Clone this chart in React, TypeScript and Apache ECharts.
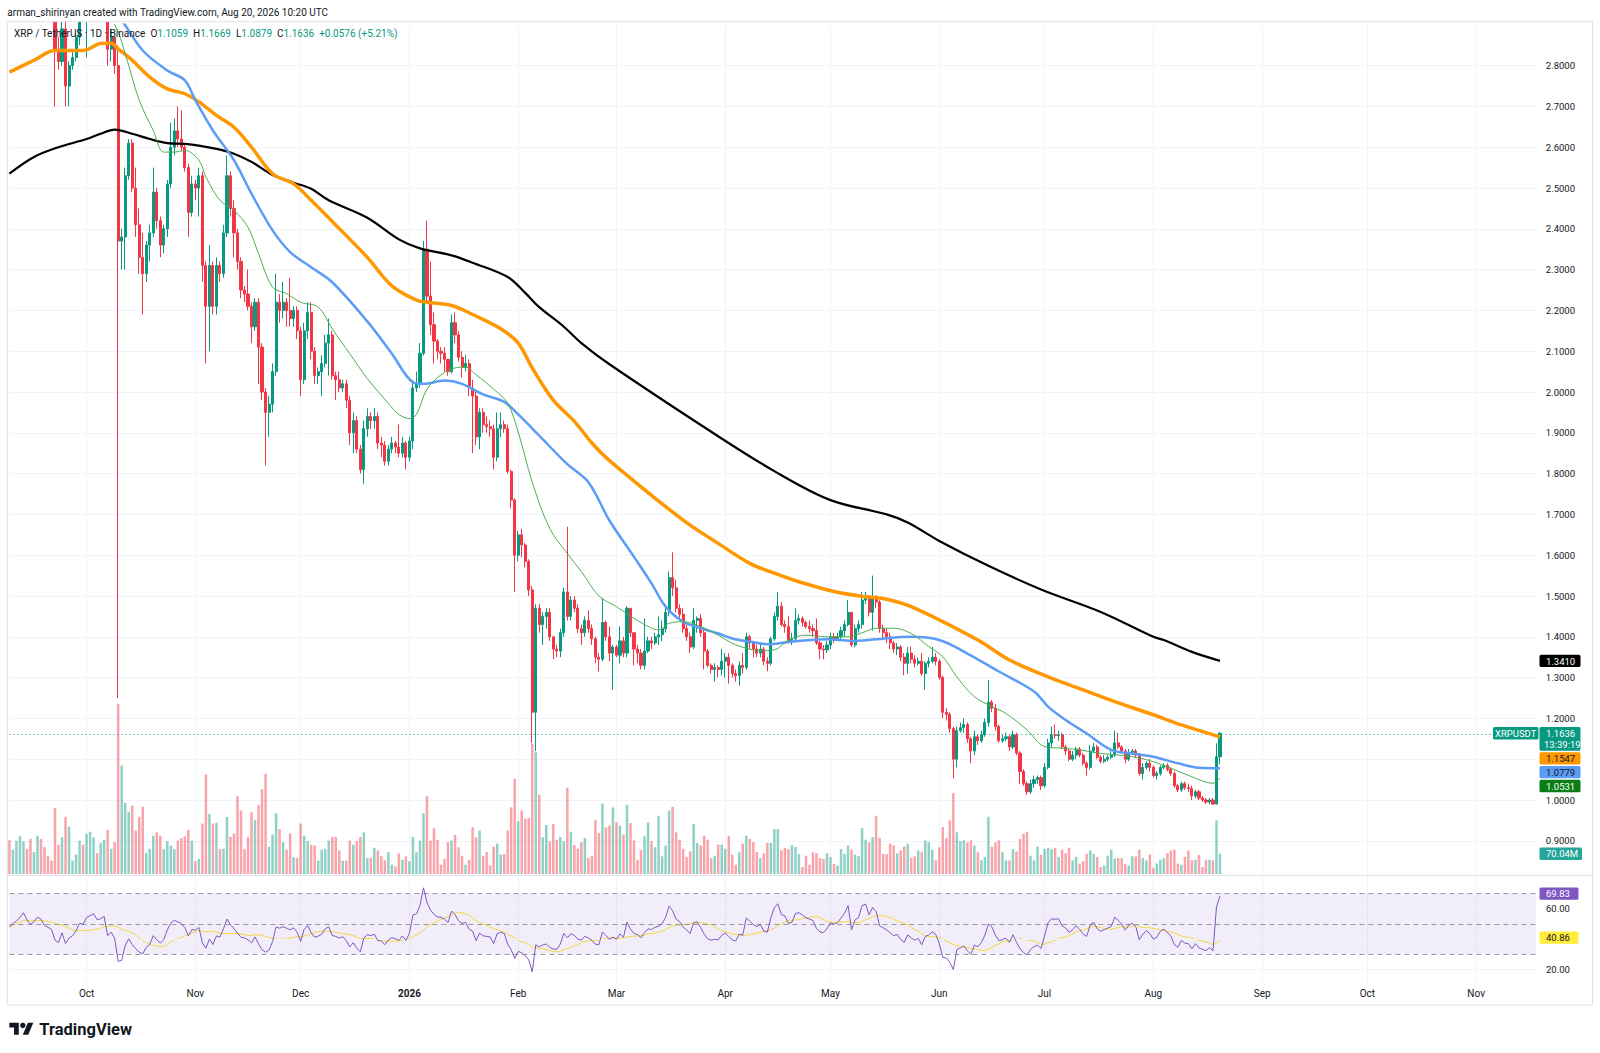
import React, { useEffect, useRef } from "react";
import * as echarts from "echarts";

// ---------- data ----------
const START_UTC = Date.UTC(2025, 8, 9); // first category: 2025-09-09
const DAY_MS = 86400000;
const CATEGORY_COUNT = 436; // axis runs to 2026-11-18
const FIRST_OPEN = 2.99;
const RSI_SEED_MOVE = 0.035; // neutral average move used to start the RSI smoothing

const CLOSE = [
  2.95, 2.99, 3.02, 3.06, 3.12, 3.05, 3.00, 3.03, 3.08, 3.06,
  3.00, 2.98, 2.96, 2.84, 2.81, 2.89, 2.75, 2.80, 2.82, 2.87,
  2.94, 2.93, 3.00, 3.02, 3.04, 2.99, 3.00, 3.02, 2.84, 2.87,
  2.80, 2.37, 2.38, 2.53, 2.61, 2.50, 2.41, 2.33, 2.29, 2.36,
  2.39, 2.49, 2.42, 2.36, 2.40, 2.51, 2.60, 2.64, 2.62, 2.60,
  2.55, 2.44, 2.51, 2.50, 2.53, 2.31, 2.21, 2.31, 2.21, 2.31,
  2.29, 2.39, 2.53, 2.45, 2.39, 2.32, 2.25, 2.24, 2.21, 2.16,
  2.22, 2.11, 2.00, 1.95, 1.97, 2.05, 2.22, 2.20, 2.22, 2.20,
  2.18, 2.20, 2.15, 2.03, 2.15, 2.195, 2.10, 2.04, 2.05, 2.07,
  2.12, 2.14, 2.04, 2.03, 2.01, 2.02, 1.98, 1.90, 1.93, 1.86,
  1.81, 1.91, 1.94, 1.93, 1.94, 1.875, 1.87, 1.83, 1.86, 1.875,
  1.865, 1.85, 1.875, 1.84, 1.88, 2.01, 2.02, 2.095, 2.35, 2.235,
  2.165, 2.125, 2.10, 2.095, 2.08, 2.05, 2.17, 2.14, 2.085, 2.06,
  2.07, 2.01, 1.99, 1.89, 1.95, 1.92, 1.915, 1.91, 1.84, 1.91,
  1.92, 1.91, 1.805, 1.735, 1.60, 1.65, 1.625, 1.585, 1.515, 1.215,
  1.47, 1.43, 1.45, 1.46, 1.40, 1.37, 1.365, 1.41, 1.51, 1.45,
  1.49, 1.47, 1.42, 1.41, 1.44, 1.42, 1.395, 1.35, 1.345, 1.435,
  1.40, 1.36, 1.375, 1.355, 1.39, 1.36, 1.47, 1.41, 1.37, 1.36,
  1.33, 1.365, 1.39, 1.385, 1.40, 1.405, 1.42, 1.46, 1.545, 1.52,
  1.47, 1.455, 1.42, 1.40, 1.375, 1.44, 1.445, 1.41, 1.365, 1.33,
  1.32, 1.325, 1.32, 1.34, 1.35, 1.33, 1.31, 1.305, 1.33, 1.325,
  1.40, 1.385, 1.37, 1.36, 1.37, 1.34, 1.335, 1.395, 1.45, 1.475,
  1.43, 1.425, 1.39, 1.395, 1.44, 1.445, 1.435, 1.425, 1.42, 1.415,
  1.385, 1.37, 1.368, 1.38, 1.40, 1.395, 1.40, 1.415, 1.43, 1.46,
  1.38, 1.42, 1.43, 1.49, 1.50, 1.46, 1.50, 1.485, 1.42, 1.41,
  1.40, 1.385, 1.37, 1.375, 1.35, 1.335, 1.36, 1.345, 1.335, 1.34,
  1.31, 1.335, 1.34, 1.35, 1.34, 1.30, 1.215, 1.21, 1.175, 1.10,
  1.17, 1.178, 1.185, 1.15, 1.12, 1.155, 1.145, 1.16, 1.19, 1.24,
  1.225, 1.18, 1.145, 1.15, 1.155, 1.13, 1.16, 1.115, 1.07, 1.04,
  1.02, 1.04, 1.05, 1.055, 1.035, 1.08, 1.14, 1.16, 1.158, 1.16,
  1.13, 1.12, 1.10, 1.11, 1.125, 1.11, 1.09, 1.08, 1.12, 1.13,
  1.105, 1.095, 1.10, 1.105, 1.11, 1.14, 1.13, 1.12, 1.10, 1.115,
  1.12, 1.11, 1.065, 1.08, 1.09, 1.08, 1.06, 1.065, 1.08, 1.085,
  1.075, 1.065, 1.035, 1.025, 1.04, 1.03, 1.028, 1.01, 1.02, 1.005,
  1.00, 0.995, 1.00, 0.99, 1.1059, 1.1636,
];

const HIGH = [
  3.00, 3.01, 3.05, 3.09, 3.17, 3.14, 3.07, 3.05, 3.12, 3.11,
  3.07, 3.02, 3.00, 2.98, 2.87, 2.94, 2.92, 2.81, 2.84, 2.88,
  2.98, 2.99, 3.03, 3.05, 3.07, 3.05, 3.03, 3.06, 3.02, 2.89,
  2.87, 2.85, 2.40, 2.55, 2.62, 2.62, 2.55, 2.45, 2.39, 2.37,
  2.41, 2.55, 2.50, 2.43, 2.41, 2.52, 2.66, 2.67, 2.70, 2.69,
  2.61, 2.56, 2.53, 2.52, 2.55, 2.54, 2.32, 2.36, 2.32, 2.33,
  2.32, 2.41, 2.58, 2.54, 2.47, 2.40, 2.33, 2.26, 2.30, 2.22,
  2.23, 2.23, 2.12, 2.01, 1.99, 2.07, 2.29, 2.24, 2.27, 2.23,
  2.28, 2.21, 2.21, 2.16, 2.17, 2.22, 2.22, 2.11, 2.06, 2.09,
  2.14, 2.18, 2.15, 2.05, 2.05, 2.03, 2.03, 1.99, 1.95, 1.94,
  1.87, 1.93, 1.96, 1.95, 1.96, 1.95, 1.89, 1.88, 1.87, 1.89,
  1.88, 1.92, 1.89, 1.88, 1.89, 2.03, 2.05, 2.12, 2.37, 2.42,
  2.32, 2.195, 2.13, 2.11, 2.11, 2.08, 2.19, 2.195, 2.15, 2.10,
  2.09, 2.08, 2.03, 2.00, 1.96, 1.96, 1.94, 1.93, 1.92, 1.95,
  1.95, 1.93, 1.92, 1.81, 1.74, 1.66, 1.665, 1.63, 1.59, 1.525,
  1.48, 1.48, 1.46, 1.47, 1.47, 1.40, 1.38, 1.42, 1.52, 1.67,
  1.50, 1.50, 1.48, 1.43, 1.45, 1.465, 1.43, 1.40, 1.36, 1.495,
  1.44, 1.425, 1.38, 1.38, 1.425, 1.40, 1.475, 1.44, 1.41, 1.38,
  1.37, 1.445, 1.40, 1.40, 1.41, 1.45, 1.44, 1.48, 1.56, 1.607,
  1.54, 1.48, 1.47, 1.43, 1.41, 1.47, 1.45, 1.455, 1.42, 1.37,
  1.335, 1.335, 1.33, 1.37, 1.36, 1.36, 1.335, 1.32, 1.34, 1.36,
  1.41, 1.405, 1.39, 1.38, 1.385, 1.375, 1.35, 1.40, 1.46, 1.51,
  1.485, 1.44, 1.45, 1.41, 1.47, 1.455, 1.45, 1.44, 1.44, 1.43,
  1.445, 1.39, 1.38, 1.39, 1.41, 1.41, 1.41, 1.425, 1.44, 1.49,
  1.46, 1.43, 1.44, 1.51, 1.51, 1.50, 1.55, 1.50, 1.49, 1.43,
  1.42, 1.41, 1.39, 1.385, 1.38, 1.36, 1.375, 1.376, 1.355, 1.35,
  1.36, 1.34, 1.35, 1.375, 1.36, 1.345, 1.305, 1.225, 1.215, 1.18,
  1.18, 1.19, 1.20, 1.19, 1.155, 1.17, 1.16, 1.17, 1.20, 1.294,
  1.245, 1.235, 1.185, 1.16, 1.165, 1.16, 1.17, 1.165, 1.12, 1.075,
  1.045, 1.05, 1.06, 1.06, 1.06, 1.09, 1.15, 1.18, 1.185, 1.17,
  1.165, 1.135, 1.125, 1.12, 1.13, 1.13, 1.115, 1.095, 1.135, 1.14,
  1.135, 1.11, 1.11, 1.11, 1.12, 1.17, 1.165, 1.135, 1.125, 1.125,
  1.125, 1.125, 1.115, 1.09, 1.095, 1.10, 1.085, 1.07, 1.085, 1.09,
  1.09, 1.08, 1.07, 1.04, 1.045, 1.045, 1.04, 1.035, 1.025, 1.025,
  1.01, 1.005, 1.005, 1.005, 1.139, 1.1669,
];

const LOW = [
  2.93, 2.94, 2.97, 3.00, 3.05, 3.01, 2.96, 2.97, 3.01, 3.03,
  2.97, 2.95, 2.93, 2.70, 2.79, 2.80, 2.70, 2.70, 2.79, 2.81,
  2.85, 2.92, 2.82, 2.97, 2.99, 2.96, 2.95, 2.96, 2.80, 2.81,
  2.78, 1.25, 2.30, 2.30, 2.52, 2.49, 2.38, 2.29, 2.19, 2.27,
  2.32, 2.38, 2.40, 2.33, 2.34, 2.38, 2.50, 2.58, 2.60, 2.59,
  2.54, 2.38, 2.43, 2.47, 2.43, 2.27, 2.07, 2.10, 2.19, 2.19,
  2.27, 2.28, 2.38, 2.43, 2.33, 2.30, 2.23, 2.22, 2.20, 2.12,
  2.15, 2.02, 1.98, 1.82, 1.89, 1.95, 2.04, 2.17, 2.18, 2.16,
  2.16, 2.16, 2.13, 1.99, 2.02, 2.13, 2.08, 2.02, 2.02, 1.99,
  2.06, 2.04, 2.03, 1.98, 2.00, 2.00, 1.96, 1.87, 1.85, 1.85,
  1.80, 1.775, 1.89, 1.91, 1.91, 1.86, 1.84, 1.82, 1.82, 1.85,
  1.85, 1.84, 1.84, 1.81, 1.83, 1.86, 2.00, 2.01, 2.09, 2.22,
  2.14, 2.07, 2.08, 2.07, 2.05, 2.04, 2.045, 2.12, 2.075, 2.035,
  2.05, 1.99, 1.85, 1.87, 1.86, 1.90, 1.90, 1.89, 1.81, 1.83,
  1.89, 1.90, 1.80, 1.715, 1.51, 1.585, 1.595, 1.57, 1.50, 1.14,
  1.12, 1.41, 1.38, 1.42, 1.39, 1.345, 1.35, 1.35, 1.40, 1.44,
  1.44, 1.46, 1.41, 1.38, 1.40, 1.41, 1.38, 1.335, 1.315, 1.34,
  1.39, 1.34, 1.27, 1.35, 1.335, 1.35, 1.35, 1.40, 1.33, 1.335,
  1.32, 1.32, 1.36, 1.37, 1.38, 1.38, 1.39, 1.41, 1.45, 1.50,
  1.46, 1.44, 1.41, 1.39, 1.36, 1.37, 1.41, 1.40, 1.32, 1.325,
  1.31, 1.29, 1.30, 1.305, 1.30, 1.285, 1.30, 1.29, 1.28, 1.31,
  1.32, 1.37, 1.35, 1.35, 1.35, 1.33, 1.315, 1.33, 1.39, 1.44,
  1.425, 1.41, 1.385, 1.38, 1.39, 1.43, 1.425, 1.42, 1.41, 1.40,
  1.38, 1.345, 1.345, 1.36, 1.37, 1.385, 1.39, 1.395, 1.40, 1.425,
  1.375, 1.375, 1.41, 1.42, 1.48, 1.45, 1.415, 1.47, 1.41, 1.395,
  1.385, 1.37, 1.36, 1.355, 1.34, 1.306, 1.31, 1.335, 1.325, 1.33,
  1.305, 1.27, 1.325, 1.335, 1.33, 1.295, 1.20, 1.195, 1.165, 1.053,
  1.08, 1.165, 1.165, 1.14, 1.09, 1.11, 1.135, 1.14, 1.155, 1.18,
  1.215, 1.17, 1.14, 1.14, 1.145, 1.12, 1.125, 1.11, 1.04, 1.035,
  1.012, 1.015, 1.03, 1.04, 1.025, 1.03, 1.075, 1.13, 1.15, 1.145,
  1.125, 1.11, 1.095, 1.095, 1.10, 1.105, 1.085, 1.06, 1.075, 1.115,
  1.10, 1.09, 1.09, 1.095, 1.10, 1.105, 1.125, 1.115, 1.09, 1.095,
  1.11, 1.105, 1.06, 1.05, 1.075, 1.07, 1.055, 1.05, 1.06, 1.075,
  1.07, 1.06, 1.03, 1.02, 1.02, 1.025, 1.02, 1.00, 1.005, 1.00,
  0.995, 0.99, 0.99, 0.988, 0.99, 1.0879,
];

// volume in millions
const VOLUME = [
  118, 84, 115, 130, 113, 87, 121, 76, 132, 121,
  93, 63, 46, 228, 101, 127, 197, 163, 46, 67,
  115, 101, 138, 146, 127, 72, 107, 118, 152, 87,
  110, 587, 374, 245, 215, 236, 150, 197, 232, 72,
  87, 132, 144, 132, 86, 113, 98, 86, 115, 124,
  130, 152, 115, 44, 52, 174, 343, 207, 174, 177,
  86, 87, 197, 128, 140, 268, 219, 86, 128, 213,
  187, 238, 293, 346, 94, 136, 210, 155, 110, 84,
  140, 58, 55, 174, 132, 113, 101, 98, 46, 84,
  87, 115, 128, 128, 81, 46, 46, 115, 101, 113,
  128, 144, 55, 55, 90, 81, 61, 47, 76, 32,
  26, 71, 49, 61, 44, 128, 75, 115, 210, 268,
  115, 158, 118, 32, 52, 110, 115, 135, 92, 63,
  32, 49, 161, 127, 150, 63, 76, 30, 95, 105,
  67, 69, 150, 230, 328, 182, 219, 191, 193, 450,
  420, 273, 127, 169, 113, 173, 118, 128, 113, 298,
  146, 100, 87, 110, 124, 55, 63, 187, 141, 243,
  161, 167, 230, 178, 167, 136, 239, 176, 116, 49,
  82, 130, 178, 113, 92, 201, 61, 98, 219, 232,
  144, 118, 87, 59, 78, 173, 107, 99, 132, 118,
  55, 63, 101, 101, 87, 132, 67, 32, 75, 105,
  132, 121, 110, 76, 55, 72, 107, 107, 155, 155,
  82, 90, 86, 99, 93, 69, 24, 63, 32, 75,
  72, 55, 52, 72, 59, 35, 29, 86, 69, 98,
  84, 67, 61, 159, 118, 109, 127, 201, 124, 70,
  69, 105, 98, 72, 81, 95, 104, 56, 61, 81,
  75, 116, 110, 84, 47, 92, 162, 124, 185, 279,
  144, 113, 116, 109, 116, 98, 75, 47, 59, 197,
  95, 109, 116, 75, 47, 47, 86, 78, 121, 139,
  146, 63, 47, 95, 67, 86, 90, 86, 90, 59,
  84, 72, 90, 47, 59, 36, 44, 70, 81, 69,
  59, 24, 29, 63, 84, 53, 55, 55, 35, 29,
  61, 61, 84, 55, 47, 67, 21, 36, 49, 55,
  72, 81, 84, 36, 32, 59, 81, 47, 49, 66,
  24, 49, 49, 47, 185, 70.04,
];

// moving averages: [day index, value]
const MA_FAST: [number, number][] = [
  [0, 2.98], [10, 3.0], [20, 2.95], [26, 2.93], [30, 2.9], [33, 2.829], [37, 2.715], [41, 2.641],
  [44, 2.588], [47, 2.588], [50, 2.592], [54, 2.568], [56, 2.527], [60, 2.47], [64, 2.445],
  [68, 2.404], [71, 2.339], [75, 2.257], [79, 2.241], [83, 2.22], [88, 2.208], [92, 2.155],
  [97, 2.094], [102, 2.033], [108, 1.972], [111, 1.945], [114, 1.935], [116, 1.945], [119, 2.007],
  [123, 2.042], [127, 2.059], [130, 2.061], [133, 2.042], [138, 2.007], [142, 1.972], [145, 1.902],
  [149, 1.779], [154, 1.665], [159, 1.604], [163, 1.56], [168, 1.5], [173, 1.474], [178, 1.445],
  [183, 1.421], [185, 1.417], [188, 1.433], [192, 1.437], [197, 1.425], [202, 1.404], [206, 1.384],
  [210, 1.372], [214, 1.366], [218, 1.368], [222, 1.392], [227, 1.404], [233, 1.4], [239, 1.4],
  [244, 1.413], [247, 1.421], [252, 1.421], [257, 1.408], [262, 1.376], [266, 1.351], [270, 1.302],
  [275, 1.253], [280, 1.229], [284, 1.212], [290, 1.172], [295, 1.131], [300, 1.127], [305, 1.123],
  [311, 1.114], [314, 1.112], [320, 1.106], [326, 1.094], [331, 1.078], [337, 1.057], [343, 1.041],
  [345, 1.0531],
];

const MA_50: [number, number][] = [
  [0, 3.02], [10, 3.0], [20, 2.98], [28, 2.95], [32, 2.911], [38, 2.837], [45, 2.788], [50, 2.764],
  [53, 2.715], [58, 2.641], [64, 2.568], [69, 2.486], [75, 2.396], [80, 2.343], [86, 2.306],
  [92, 2.269], [102, 2.173], [109, 2.094], [115, 2.024], [118, 2.02], [124, 2.028], [129, 2.02],
  [135, 1.994], [141, 1.976], [145, 1.945], [151, 1.893], [159, 1.823], [165, 1.779], [171, 1.685],
  [178, 1.596], [183, 1.531], [187, 1.474], [192, 1.437], [197, 1.421], [202, 1.408], [206, 1.396],
  [211, 1.388], [216, 1.382], [221, 1.386], [225, 1.39], [233, 1.394], [240, 1.39], [247, 1.394],
  [257, 1.4], [265, 1.392], [273, 1.359], [282, 1.315], [292, 1.266], [296, 1.229], [301, 1.196],
  [307, 1.163], [314, 1.123], [320, 1.114], [326, 1.106], [333, 1.09], [339, 1.079], [345, 1.0779],
];

const MA_100: [number, number][] = [
  [0, 2.784], [7, 2.813], [13, 2.837], [21, 2.837], [26, 2.854], [29, 2.855], [31, 2.841],
  [35, 2.813], [40, 2.772], [45, 2.743], [50, 2.731], [54, 2.711], [59, 2.678], [64, 2.649],
  [69, 2.6], [75, 2.535], [81, 2.51], [86, 2.47], [92, 2.418], [102, 2.33], [109, 2.26],
  [116, 2.225], [119, 2.22], [126, 2.212], [132, 2.19], [140, 2.155], [145, 2.12], [149, 2.059],
  [155, 1.98], [161, 1.928], [166, 1.875], [171, 1.832], [192, 1.686], [202, 1.629], [211, 1.58],
  [218, 1.556], [225, 1.535], [235, 1.511], [244, 1.498], [249, 1.494], [257, 1.474], [276, 1.392],
  [285, 1.343], [296, 1.302], [306, 1.27], [315, 1.241], [325, 1.212], [334, 1.184], [345, 1.1547],
];

const MA_200: [number, number][] = [
  [0, 2.535], [7, 2.576], [14, 2.6], [22, 2.62], [26, 2.633], [30, 2.643], [35, 2.633], [40, 2.62],
  [45, 2.61], [50, 2.608], [54, 2.604], [59, 2.596], [64, 2.584], [69, 2.564], [75, 2.532],
  [81, 2.513], [86, 2.498], [91, 2.47], [102, 2.427], [111, 2.374], [117, 2.352], [126, 2.335],
  [132, 2.317], [142, 2.282], [147, 2.243], [151, 2.208], [158, 2.16], [163, 2.12], [171, 2.068],
  [201, 1.897], [218, 1.806], [234, 1.735], [250, 1.7], [256, 1.68], [265, 1.635], [279, 1.574],
  [294, 1.516], [311, 1.461], [326, 1.4], [329, 1.392], [337, 1.363], [345, 1.341],
];

const MONTH_NAMES = ["Jan", "Feb", "Mar", "Apr", "May", "Jun", "Jul", "Aug", "Sep", "Oct", "Nov", "Dec"];

const LAST_PRICE = 1.1636;
const LAST_VOLUME = 70.04;
const RSI_LAST_LABEL = 69.83;
const RSI_MA_LAST_LABEL = 40.86;
const MA_TAGS = [
  { value: 1.1547, text: "1.1547", bg: "#FF9800", fg: "#131722" },
  { value: 1.0779, text: "1.0779", bg: "#5B9CF6", fg: "#131722" },
  { value: 1.0531, text: "1.0531", bg: "#0B7D15", fg: "#FFFFFF" },
];
const MA200_TAG = { value: 1.341, text: "1.3410" };
const RSI_AXIS_LABELS = [60, 20];

// ---------- style ----------
const FONT = 'Roboto, "Noto Sans", sans-serif';
const UP = "#089981";
const DOWN = "#F23645";
const VOL_UP = "rgba(8,153,129,0.45)";
const VOL_DOWN = "rgba(242,54,69,0.45)";
const GRID_LINE = "#F0F3FA";
const TEXT = "#131722";

const GRID_LEFT = 9.4;
const CAT_W = 3.509;
const GRID_RIGHT_X = GRID_LEFT + (CATEGORY_COUNT - 1) * CAT_W;
const W = 1600;
const H = 1053;

const TV_LOGO_PATH = "M14 22H7V11H0V4h14v18zM28 22h-8l7.5-18h8L28 22z";
echarts.graphic.registerShape("tvlogo", echarts.graphic.extendPath(TV_LOGO_PATH, {}) as any);

function buildDates(): string[] {
  const out: string[] = [];
  for (let i = 0; i < CATEGORY_COUNT; i++) {
    const d = new Date(START_UTC + i * DAY_MS);
    const m = String(d.getUTCMonth() + 1).padStart(2, "0");
    const dd = String(d.getUTCDate()).padStart(2, "0");
    out.push(`${d.getUTCFullYear()}-${m}-${dd}`);
  }
  return out;
}

// Wilder RSI of the closes
function rsiOf(closes: number[], period: number): (number | null)[] {
  const out: (number | null)[] = [];
  let ag = RSI_SEED_MOVE;
  let al = RSI_SEED_MOVE;
  for (let i = 0; i < closes.length; i++) {
    const prev = i === 0 ? FIRST_OPEN : closes[i - 1];
    const ch = closes[i] - prev;
    const g = ch > 0 ? ch : 0;
    const l = ch < 0 ? -ch : 0;
    ag = (ag * (period - 1) + g) / period;
    al = (al * (period - 1) + l) / period;
    out.push(al === 0 ? 100 : 100 - 100 / (1 + ag / al));
  }
  return out;
}

function smaOf(vals: (number | null)[], period: number): (number | null)[] {
  const out: (number | null)[] = [];
  for (let i = 0; i < vals.length; i++) {
    const win: number[] = [];
    for (let j = Math.max(0, i - period + 1); j <= i; j++) {
      const v = vals[j];
      if (v != null) win.push(v);
    }
    out.push(win.length ? win.reduce((a, b) => a + b, 0) / win.length : null);
  }
  return out;
}

export default function App() {
  const ref = useRef<HTMLDivElement>(null);

  useEffect(() => {
    if (!ref.current) return;
    const chart = echarts.init(ref.current, null, { renderer: "svg", width: W, height: H });
    const dates = buildDates();
    const n = Math.min(CLOSE.length, HIGH.length, LOW.length, VOLUME.length);

    const candles: number[][] = [];
    const vols: any[] = [];
    for (let i = 0; i < n; i++) {
      const o = i === 0 ? FIRST_OPEN : CLOSE[i - 1];
      const c = CLOSE[i];
      const lo = Math.min(LOW[i], o, c);
      const hi = Math.max(HIGH[i], o, c);
      candles.push([o, c, lo, hi]);
      vols.push({ value: VOLUME[i], itemStyle: { color: c >= o ? VOL_UP : VOL_DOWN } });
    }
    const rsi = rsiOf(CLOSE.slice(0, n), 14);
    const rsiMa = smaOf(rsi, 14);

    const isMonthStart = (_i: number, v: string) => typeof v === "string" && v.slice(8, 10) === "01";
    const monthLabel = (v: string) => {
      const m = Number(v.slice(5, 7));
      return m === 1 ? `{y|${v.slice(0, 4)}}` : MONTH_NAMES[m - 1];
    };

    const baseX = (gridIndex: number, showLabels: boolean) => ({
      type: "category",
      gridIndex,
      data: dates,
      boundaryGap: false,
      axisLine: { show: false },
      axisTick: { show: false },
      axisLabel: showLabels
        ? {
            show: true,
            interval: isMonthStart,
            formatter: monthLabel,
            color: TEXT,
            fontSize: 10,
            fontFamily: FONT,
            margin: 5,
            rich: { y: { fontWeight: "bold", fontSize: 10, fontFamily: FONT, color: TEXT } },
          }
        : { show: false },
      splitLine: {
        show: gridIndex !== 1,
        interval: isMonthStart,
        lineStyle: { color: GRID_LINE, width: 1 },
      },
    });

    const maLine = (name: string, data: [number, number][], color: string, width: number, z: number) => ({
      name,
      type: "line",
      xAxisIndex: 0,
      yAxisIndex: 0,
      data,
      smooth: 0.35,
      showSymbol: false,
      symbol: "none",
      clip: true,
      z,
      lineStyle: { color, width },
      silent: true,
    });

    const option: any = {
      animation: false,
      backgroundColor: "#FFFFFF",
      grid: [
        { left: GRID_LEFT, right: W - GRID_RIGHT_X, top: 24.8, bottom: H - 881.6 },
        { left: GRID_LEFT, right: W - GRID_RIGHT_X, top: 574, bottom: H - 874 },
        { left: GRID_LEFT, right: W - GRID_RIGHT_X, top: 876.7, bottom: H - 983 },
      ],
      xAxis: [baseX(0, false), { ...baseX(1, false), show: false }, baseX(2, true)],
      yAxis: [
        {
          type: "value",
          gridIndex: 0,
          position: "right",
          min: 0.8,
          max: 2.9,
          interval: 0.1,
          axisLine: { show: false },
          axisTick: { show: false },
          axisLabel: {
            color: TEXT,
            fontSize: 9.5,
            fontFamily: FONT,
            margin: 10,
            formatter: (v: number) => (v < 0.85 || v > 2.85 ? "" : v.toFixed(4)),
          },
          splitLine: { show: true, showMinLine: false, showMaxLine: false, lineStyle: { color: GRID_LINE } },
        },
        { type: "value", gridIndex: 1, min: 0, max: 1035, show: false },
        { type: "value", gridIndex: 2, min: 11, max: 81, show: false },
      ],
      series: [
        {
          name: "Volume",
          type: "bar",
          xAxisIndex: 1,
          yAxisIndex: 1,
          data: vols,
          barWidth: 2.5,
          z: 1,
          silent: true,
        },
        {
          name: "XRPUSDT",
          type: "candlestick",
          xAxisIndex: 0,
          yAxisIndex: 0,
          data: candles,
          barWidth: 2.6,
          clip: true,
          z: 3,
          itemStyle: { color: UP, color0: DOWN, borderColor: UP, borderColor0: DOWN, borderWidth: 1 },
          markLine: {
            silent: true,
            symbol: ["none", "none"],
            label: { show: false },
            lineStyle: { color: UP, type: [1, 3], width: 1 },
            data: [{ yAxis: LAST_PRICE }],
          },
        },
        maLine("MA200", MA_200, "#000000", 2.2, 4),
        maLine("MA100", MA_100, "#FF9800", 3.5, 5),
        maLine("MA50", MA_50, "#5B9CF6", 2.5, 6),
        maLine("MA20", MA_FAST, "#4CAF50", 1, 7),
        {
          name: "RSI",
          type: "line",
          xAxisIndex: 2,
          yAxisIndex: 2,
          data: rsi,
          showSymbol: false,
          symbol: "none",
          z: 5,
          lineStyle: { color: "#7E57C2", width: 1 },
          silent: true,
          markArea: {
            silent: true,
            itemStyle: { color: "rgba(126,87,194,0.1)" },
            data: [[{ yAxis: 30 }, { yAxis: 70 }]],
          },
          markLine: {
            silent: true,
            symbol: ["none", "none"],
            label: { show: false },
            lineStyle: { color: "#9598A1", type: [5, 4], width: 1 },
            data: [
              { yAxis: 70 },
              { yAxis: 50 },
              { yAxis: 30 },
              { yAxis: 60, lineStyle: { color: GRID_LINE, type: "solid" } },
              { yAxis: 40, lineStyle: { color: GRID_LINE, type: "solid" } },
              { yAxis: 20, lineStyle: { color: GRID_LINE, type: "solid" } },
            ],
          },
        },
        {
          name: "RSI MA",
          type: "line",
          xAxisIndex: 2,
          yAxisIndex: 2,
          data: rsiMa,
          showSymbol: false,
          symbol: "none",
          z: 4,
          lineStyle: { color: "#F5D63D", width: 1 },
          silent: true,
        },
      ],
    };

    chart.setOption(option);

    const py = (v: number) => chart.convertToPixel({ yAxisIndex: 0 }, v) as number;
    const vy = (v: number) => chart.convertToPixel({ yAxisIndex: 1 }, v) as number;
    const ry = (v: number) => chart.convertToPixel({ yAxisIndex: 2 }, v) as number;

    const TAG_X = 1539.5;
    const TAG_W = 41;
    const TAG_H = 12.4;
    const g: any[] = [];
    const txt = (x: number, y: number, text: string, fill: string, size = 9.5, extra: any = {}) => ({
      type: "text",
      x,
      y,
      z: 120,
      silent: true,
      style: { text, fill, fontSize: size, fontFamily: FONT, verticalAlign: "middle", align: "left", ...extra },
    });
    const box = (x: number, y: number, w: number, h: number, fill: string) => ({
      type: "rect",
      z: 110,
      silent: true,
      shape: { x, y, width: w, height: h, r: 1.5 },
      style: { fill },
    });
    const tag = (top: number, bg: string, fg: string, text: string, w = TAG_W) => {
      g.push(box(TAG_X, top, w, TAG_H, bg));
      g.push(txt(TAG_X + 6.5, top + TAG_H / 2 + 0.3, text, fg));
    };

    // white band above the pane (hides prices above the pane top)
    g.push({
      type: "rect",
      z: 100,
      silent: true,
      shape: { x: 0, y: 0, width: W, height: 21.2 },
      style: { fill: "#FFFFFF" },
    });

    // frame and pane separator
    g.push({
      type: "rect",
      z: 101,
      silent: true,
      shape: { x: 7.3, y: 21.7, width: 1592.5 - 7.3, height: 1005 - 21.7 },
      style: { fill: "none", stroke: "#E0E3EB", lineWidth: 1 },
    });
    g.push({
      type: "line",
      z: 101,
      silent: true,
      shape: { x1: 7.3, y1: 875.5, x2: 1592.5, y2: 875.5 },
      style: { stroke: "#E0E3EB", lineWidth: 1 },
    });

    // MA200 tag
    tag(py(MA200_TAG.value) - TAG_H / 2, "#000000", "#FFFFFF", MA200_TAG.text);

    // last price tag (two lines) and symbol tag
    const pY = py(LAST_PRICE);
    const pTop = pY - TAG_H / 2;
    const pH = 23.7;
    g.push(box(TAG_X, pTop, TAG_W, pH, UP));
    g.push(txt(TAG_X + 6.5, pY + 0.3, LAST_PRICE.toFixed(4), "#FFFFFF"));
    g.push(txt(TAG_X + 4.5, pY + 11.6, "13:39:19", "#FFFFFF"));
    g.push(box(1493, pTop, 45.5, TAG_H, UP));
    g.push(txt(1515.7, pY + 0.3, "XRPUSDT", "#FFFFFF", 9.5, { align: "center" }));

    // stacked MA tags
    let bottom = pTop + pH;
    MA_TAGS.forEach((t) => {
      let top = py(t.value) - TAG_H / 2;
      if (top < bottom + 1.4) top = bottom + 1.4;
      tag(top, t.bg, t.fg, t.text);
      bottom = top + TAG_H;
    });

    // volume tag
    tag(vy(LAST_VOLUME) - TAG_H / 2, "#26A69A", "#FFFFFF", LAST_VOLUME.toFixed(2) + "M", 42.5);

    // RSI labels
    RSI_AXIS_LABELS.forEach((v) => g.push(txt(1546, ry(v), v.toFixed(2), TEXT)));
    tag(ry(RSI_LAST_LABEL) - TAG_H / 2, "#7E57C2", "#FFFFFF", RSI_LAST_LABEL.toFixed(2), 39);
    tag(ry(RSI_MA_LAST_LABEL) - TAG_H / 2, "#FFEB3B", TEXT, RSI_MA_LAST_LABEL.toFixed(2), 39);

    // header and legend
    g.push(txt(7.3, 12, "arman_shirinyan created with TradingView.com, Aug 20, 2026 10:20 UTC", TEXT, 10));
    g.push({
      type: "text",
      x: 14,
      y: 33.3,
      z: 120,
      silent: true,
      style: {
        text:
          "{t|XRP / TetherUS · 1D · Binance}  {t|O}{v|1.1059}  {t|H}{v|1.1669}  {t|L}{v|1.0879}  {t|C}{v|1.1636}  {v|+0.0576 (+5.21%)}",
        fontSize: 10,
        fontFamily: FONT,
        verticalAlign: "middle",
        rich: {
          t: { fill: TEXT, color: TEXT, fontSize: 10, fontFamily: FONT },
          v: { fill: UP, color: UP, fontSize: 10, fontFamily: FONT },
        },
      },
    });

    // TradingView logo
    g.push({
      type: "tvlogo",
      x: 9.3,
      y: 1020,
      scaleX: 0.676,
      scaleY: 0.676,
      z: 120,
      silent: true,
      style: { fill: TEXT },
    });
    g.push({
      type: "circle",
      z: 120,
      silent: true,
      shape: { cx: 9.3 + 20 * 0.676, cy: 1020 + 8 * 0.676, r: 4 * 0.676 },
      style: { fill: TEXT },
    });
    g.push(txt(39.3, 1029, "TradingView", TEXT, 16.5, { fontWeight: "bold" }));

    chart.setOption({ graphic: g });

    return () => chart.dispose();
  }, []);

  return (
    <div
      ref={ref}
      style={{ position: "fixed", left: 0, top: 0, width: W, height: H, background: "#FFFFFF" }}
    />
  );
}
